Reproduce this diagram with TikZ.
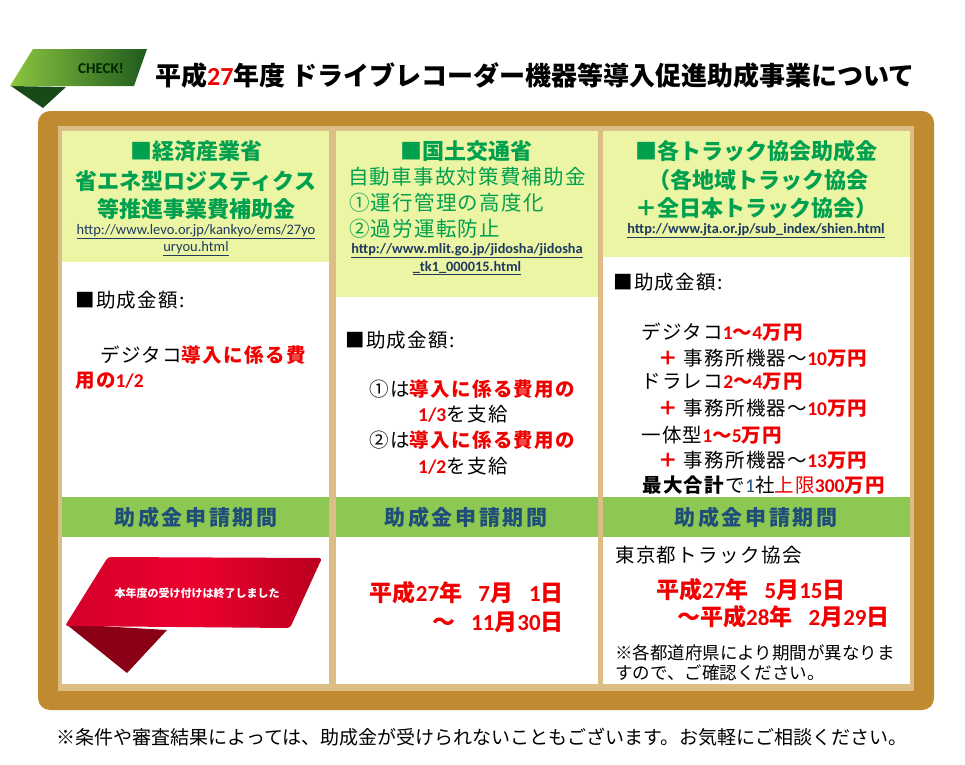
\documentclass[tikz,border=0pt]{standalone}
\usepackage{fontspec}
\setmainfont{Noto Sans CJK JP}
\newfontfamily\latfont{Carlito}
\usetikzlibrary{positioning, shapes}

\definecolor{frameBrown}{HTML}{BF8A30}
\definecolor{cork}{HTML}{DCBD85}
\definecolor{headFill}{HTML}{EBF5A4}
\definecolor{barGreen}{HTML}{8DC853}
\definecolor{headGreen}{HTML}{00A04F}
\definecolor{urlBlue}{HTML}{1F3A60}
\definecolor{barBlue}{HTML}{1F4E79}
\definecolor{hotRed}{HTML}{F00000}
\definecolor{badgeLight}{HTML}{8CC63F}
\definecolor{badgeDark}{HTML}{1E5B1E}
\definecolor{ribbonRed}{HTML}{EC0030}
\definecolor{ribbonDark}{HTML}{B8001E}

\newcommand{\rd}[1]{\textcolor{hotRed}{\bfseries #1}}
\newcommand{\rn}[1]{\textcolor{hotRed}{\latfont\bfseries #1}}
\newcommand{\gap}{\hspace{0.7em}}

\begin{document}
\begin{tikzpicture}[x=1pt, y=-1pt, inner sep=0pt,
  heading/.style={font=\fontsize{22}{22}\selectfont\bfseries, text=headGreen},
  subhead/.style={font=\fontsize{20.5}{20.5}\selectfont\addfontfeature{LetterSpace=6}, text=headGreen},
  urltext/.style={font=\latfont\fontsize{14.5}{14.5}\selectfont, text=urlBlue},
  urlbold/.style={font=\latfont\fontsize{14.3}{14.3}\selectfont\bfseries, text=urlBlue},
  body/.style={font=\fontsize{19.5}{19.5}\selectfont\addfontfeature{LetterSpace=7}, anchor=west},
  barlabel/.style={font=\fontsize{21}{21}\selectfont\bfseries\addfontfeature{LetterSpace=12}, text=barBlue},
  datered/.style={font=\fontsize{23}{23}\selectfont\bfseries, text=hotRed}]
\useasboundingbox (0,0) rectangle (965,764);

% check badge
\fill[badgeDark!80!black] (11,86) -- (66,87) -- (43,108) -- cycle;
\shade[left color=badgeLight, right color=badgeDark] (33,49) -- (147,49) -- (134,86) -- (10,86) -- cycle;
\node[font=\latfont\fontsize{15}{15}\selectfont\bfseries, text=black!85!green] (check) at (101,68) {CHECK!};
\node[font=\fontsize{26}{26}\selectfont\bfseries, anchor=west] (title) at (155,76) {平成\rn{27}年度 ドライブレコーダー機器等導入促進助成事業について};

% board
\fill[frameBrown, rounded corners=12pt] (38,111) rectangle (934,710);
\fill[cork] (58,126) rectangle (914,691);
\fill[white] (62,131) rectangle (329,684);
\fill[white] (336,131) rectangle (598,684);
\fill[white] (603,131) rectangle (910,684);
\fill[headFill] (62,131) rectangle (329,262);
\fill[headFill] (336,131) rectangle (598,297);
\fill[headFill] (603,131) rectangle (910,257);
\fill[barGreen] (62,497) rectangle (329,537);
\fill[barGreen] (336,497) rectangle (598,537);
\fill[barGreen] (603,497) rectangle (910,537);

% column 1
\node[heading] (metiTitle) at (196,151) {■経済産業省};
\node[heading] (metiSub1) at (196,181) {省エネ型ロジスティクス};
\node[heading] (metiSub2) at (196,209) {等推進事業費補助金};
\node[urltext] (metiUrl1) at (196,232) {\underline{http://www.levo.or.jp/kankyo/ems/27yo}};
\node[urltext] (metiUrl2) at (196,249) {\underline{uryou.html}};
\node[body] (metiAmount) at (75,300) {■助成金額:};
\node[body] (metiRate1) at (100,355) {デジタコ\rd{導入に係る費}};
\node[body] (metiRate2) at (75,381) {\rd{用の}\rn{1/2}};
\node[barlabel] (metiBar) at (196,517) {助成金申請期間};
\fill[ribbonDark!75!black] (66,624) -- (167,630) -- (127,673) -- cycle;
\shade[left color=ribbonRed!90!black, right color=ribbonDark, middle color=ribbonRed, rounded corners=3pt] (108,557) -- (322,558) -- (290,628) -- (65,626) -- cycle;
\node[font=\fontsize{11}{11}\selectfont\bfseries, text=white] (closedNote) at (197,593) {本年度の受け付けは終了しました};

% column 2
\node[heading] (mlitTitle) at (466,151) {■国土交通省};
\node[subhead] (mlitSub1) at (467,177) {自動車事故対策費補助金};
\node[subhead, anchor=west] (mlitSub2) at (349,203) {①運行管理の高度化};
\node[subhead, anchor=west] (mlitSub3) at (349,229) {②過労運転防止};
\node[urlbold] (mlitUrl1) at (467,251) {\underline{http://www.mlit.go.jp/jidosha/jidosha}};
\node[urlbold] (mlitUrl2) at (467,268) {\underline{\_tk1\_000015.html}};
\node[body] (mlitAmount) at (345,340) {■助成金額:};
\node[body] (mlitRate1) at (369,389) {①は\rd{導入に係る費用の}};
\node[body] (mlitRate2) at (418,414) {\rn{1/3}を支給};
\node[body] (mlitRate3) at (369,440) {②は\rd{導入に係る費用の}};
\node[body] (mlitRate4) at (418,466) {\rn{1/2}を支給};
\node[barlabel] (mlitBar) at (466,517) {助成金申請期間};
\node[datered, anchor=east] (mlitFrom) at (564,593) {平成\rn{27}年\gap\rn{7}月\gap\rn{1}日};
\node[datered, anchor=east] (mlitTo) at (564,622) {〜\gap\rn{11}月\rn{30}日};

% column 3
\node[heading] (jtaTitle) at (756,151) {■各トラック協会助成金};
\node[heading] (jtaSub1) at (758,180) {（各地域トラック協会};
\node[heading] (jtaSub2) at (756,208) {＋全日本トラック協会）};
\node[urlbold] (jtaUrl) at (756,231) {\underline{http://www.jta.or.jp/sub\_index/shien.html}};
\node[body] (jtaAmount) at (613,282) {■助成金額:};
\node[body] (jtaDigi) at (641,332) {デジタコ\rn{1}\rd{〜}\rn{4}\rd{万円}};
\node[body] (jtaDigiPlus) at (658,358) {\rd{＋} 事務所機器〜\rn{10}\rd{万円}};
\node[body] (jtaDrive) at (641,382) {ドラレコ\rn{2}\rd{〜}\rn{4}\rd{万円}};
\node[body] (jtaDrivePlus) at (658,408) {\rd{＋} 事務所機器〜\rn{10}\rd{万円}};
\node[body] (jtaBoth) at (641,435) {一体型\rn{1}\rd{〜}\rn{5}\rd{万円}};
\node[body] (jtaBothPlus) at (658,460) {\rd{＋} 事務所機器〜\rn{13}\rd{万円}};
\node[body] (jtaMax) at (642,485) {\textbf{最大合計}で\textcolor{barBlue}{\latfont 1}社\textcolor{hotRed}{上限}\rn{300}\rd{万円}};
\node[barlabel] (jtaBar) at (756,517) {助成金申請期間};
\node[body] (jtaTokyo) at (615,555) {東京都トラック協会};
\node[datered, anchor=west] (jtaFrom) at (656,590) {平成\rn{27}年\gap\rn{5}月\rn{15}日};
\node[datered, anchor=west] (jtaTo) at (677,617) {〜平成\rn{28}年\gap\rn{2}月\rn{29}日};
\node[body, font=\fontsize{17.5}{17.5}\selectfont] (jtaNote1) at (615,653) {※各都道府県により期間が異なりま};
\node[body, font=\fontsize{17.5}{17.5}\selectfont] (jtaNote2) at (615,673) {すので、ご確認ください。};

% footnote
\node[font=\fontsize{19}{19}\selectfont] (footNote) at (482,737) {※条件や審査結果によっては、助成金が受けられないこともございます。お気軽にご相談ください。};
\end{tikzpicture}
\end{document}
